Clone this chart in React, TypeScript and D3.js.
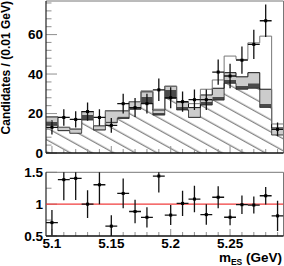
import { useEffect, useRef } from 'react';
import * as d3 from 'd3';

// bin centres in m_ES (GeV), width 0.01
const binCenters = [5.10, 5.11, 5.12, 5.13, 5.14, 5.15, 5.16, 5.17, 5.18, 5.19,
  5.20, 5.21, 5.22, 5.23, 5.24, 5.25, 5.26, 5.27, 5.28, 5.29];

// stacked model components (candidates / bin)
const continuum = [14, 11.3, 10, 16.7, 11.6, 15.3, 17.5, 22.1, 25.2, 19.2,
  27.7, 21.8, 18, 24.3, 26.8, 35.3, 32.3, 32.8, 23.1, 9.1];
const bbDark = [1.8, 0.3, 0.3, 2.5, 0.4, 0.7, 1, 1.3, 3.3, 1.2,
  4.2, 1.6, 0.5, 1.7, 1.7, 1.7, 1.6, 2.5, 1.7, 0.3];
const bbLight = [2.5, 1.4, 1.8, 1.8, 1.8, 5.4, 2.9, 2.6, 2.5, 1.4,
  1.9, 2.3, 4.5, 3.4, 4.3, 3.7, 4.7, 5.4, 7.5, 3.3];
const signal = [0, 0, 0, 0, 0, 0, 0, 0, 0.5, 0.4,
  0, 0, 2, 2.9, 4.2, 8.4, 8.8, 15.1, 26.9, 2];

// data
const dataCounts = [13, 18, 17, 21, 18, 14, 25, 23, 25, 32,
  28, 26, 27, 27, 41, 39, 47, 55, 67, 12];
const dataErrors = [3.6, 4.2, 4.1, 4.6, 4.2, 3.7, 5, 4.8, 5, 5.7,
  5.3, 5.1, 5.2, 5.2, 6.4, 6.2, 6.9, 7.4, 8.2, 3.5];

const xTickLabels = ['5.1', '5.15', '5.2', '5.25'];
const yTickLabels = ['0', '20', '40', '60'];
const ratioTickLabels = ['0.5', '1', '1.5'];

const FONT = 'Liberation Sans, Arial, Helvetica, sans-serif';

interface Row {
  c: number
  continuum: number
  dark: number
  light: number
  signal: number
}

const App = (): JSX.Element => {
  const svgRef = useRef<SVGSVGElement>(null);

  useEffect(() => {
    const svg = d3.select(svgRef.current);
    svg.selectAll('*').remove();

    const half = 0.005;
    const x = d3.scaleLinear().domain([5.095, 5.295]).range([46, 283.5]);
    const y = d3.scaleLinear().domain([0, 77]).range([153, 1]);
    const yr = d3.scaleLinear().domain([0.5, 1.5]).range([236, 172.3]);

    const defs = svg.append('defs');
    const pat = defs.append('pattern')
      .attr('id', 'hatch')
      .attr('patternUnits', 'userSpaceOnUse')
      .attr('width', 10)
      .attr('height', 10.5)
      .attr('patternTransform', 'rotate(29)');
    pat.append('line')
      .attr('x1', 0).attr('x2', 10)
      .attr('y1', 5).attr('y2', 5)
      .attr('stroke', '#333')
      .attr('stroke-width', 0.8);

    defs.append('clipPath').attr('id', 'clipTop')
      .append('rect').attr('x', 46).attr('y', 1).attr('width', 237.5).attr('height', 152);
    defs.append('clipPath').attr('id', 'clipRat')
      .append('rect').attr('x', 46).attr('y', 172.3).attr('width', 237.5).attr('height', 63.7);

    const rows: Row[] = binCenters.map((c, i) => ({
      c,
      continuum: continuum[i],
      dark: bbDark[i],
      light: bbLight[i],
      signal: signal[i],
    }));
    const keys = ['continuum', 'dark', 'light', 'signal'];
    const stacked = d3.stack<Row>().keys(keys)(rows);

    type P = { x: number, y0: number, y1: number };
    const stepPts = (s: d3.Series<Row, string>): P[] => s.flatMap(d => [
      { x: d.data.c - half, y0: d[0], y1: d[1] },
      { x: d.data.c + half, y0: d[0], y1: d[1] },
    ]);

    const area = d3.area<P>().x(p => x(p.x)).y0(p => y(p.y0)).y1(p => y(p.y1));
    const topLine = d3.line<P>().x(p => x(p.x)).y(p => y(p.y1));

    const top = svg.append('g').attr('clip-path', 'url(#clipTop)');
    const fills = ['#fff', '#4a4a4a', '#cccccc', '#fff'];
    stacked.forEach((s, k) => {
      top.append('path').attr('d', area(stepPts(s))).attr('fill', fills[k]);
      if (k === 0) {
        top.append('path').attr('d', area(stepPts(s))).attr('fill', 'url(#hatch)');
      }
    });
    // outlines
    const outline = [
      { k: 0, color: '#222', w: 0.8 },
      { k: 2, color: '#111', w: 1 },
      { k: 3, color: '#777', w: 1 },
    ];
    outline.forEach(o => {
      top.append('path')
        .attr('d', topLine(stepPts(stacked[o.k])))
        .attr('fill', 'none')
        .attr('stroke', o.color)
        .attr('stroke-width', o.w);
    });

    // data points
    const drawPoints = (g: d3.Selection<SVGGElement, unknown, null, undefined>,
      vals: number[], errs: number[], ys: d3.ScaleLinear<number, number>) => {
      vals.forEach((v, i) => {
        const c = binCenters[i];
        g.append('line')
          .attr('x1', x(c)).attr('x2', x(c))
          .attr('y1', ys(v - errs[i])).attr('y2', ys(v + errs[i]))
          .attr('stroke', '#111').attr('stroke-width', 1.3);
        g.append('line')
          .attr('x1', x(c - half)).attr('x2', x(c + half))
          .attr('y1', ys(v)).attr('y2', ys(v))
          .attr('stroke', '#111').attr('stroke-width', 1.3);
        g.append('rect')
          .attr('x', x(c) - 1.5).attr('y', ys(v) - 1.5)
          .attr('width', 3).attr('height', 3)
          .attr('fill', '#000');
      });
    };
    drawPoints(top, dataCounts, dataErrors, y);

    const ticks = svg.append('g').attr('stroke', '#999').attr('stroke-width', 1.1);
    // top panel y ticks
    d3.range(0, 77, 4).forEach(v => {
      const major = v % 20 === 0;
      ticks.append('line')
        .attr('x1', 46).attr('x2', 46 + (major ? 11 : 5.5))
        .attr('y1', y(v)).attr('y2', y(v));
    });
    // x ticks on both panels
    binCenters.forEach((c, i) => {
      const len = i % 5 === 0 ? 7 : 4;
      ticks.append('line').attr('x1', x(c)).attr('x2', x(c))
        .attr('y1', 153).attr('y2', 153 - len);
      ticks.append('line').attr('x1', x(c)).attr('x2', x(c))
        .attr('y1', 236).attr('y2', 236 - len);
    });
    // ratio y ticks
    [0.5, 0.75, 1, 1.25, 1.5].forEach((v, i) => {
      ticks.append('line')
        .attr('x1', 46).attr('x2', 46 + (i % 2 === 0 ? 11 : 5.5))
        .attr('y1', yr(v)).attr('y2', yr(v));
    });

    // frames
    const frame = (y0: number, y1: number) => {
      svg.append('line').attr('x1', 46).attr('x2', 283.5).attr('y1', y0).attr('y2', y0)
        .attr('stroke', '#777').attr('stroke-width', 1);
      svg.append('line').attr('x1', 283.5).attr('x2', 283.5).attr('y1', y0).attr('y2', y1)
        .attr('stroke', '#777').attr('stroke-width', 1);
      svg.append('line').attr('x1', 46).attr('x2', 46).attr('y1', y0).attr('y2', y1)
        .attr('stroke', '#222').attr('stroke-width', 1.2);
      svg.append('line').attr('x1', 46).attr('x2', 283.5).attr('y1', y1).attr('y2', y1)
        .attr('stroke', '#111').attr('stroke-width', 1.5);
    };
    frame(1, 153);
    frame(172.3, 236);

    // ratio panel
    const rat = svg.append('g').attr('clip-path', 'url(#clipRat)');
    rat.append('line')
      .attr('x1', 46).attr('x2', 283.5)
      .attr('y1', yr(1)).attr('y2', yr(1))
      .attr('stroke', '#f03c3c').attr('stroke-width', 1.1);
    const totals = rows.map(r => r.continuum + r.dark + r.light + r.signal);
    const ratios = dataCounts.map((v, i) => v / totals[i]);
    const ratioErrs = dataErrors.map((e, i) => e / totals[i]);
    drawPoints(rat, ratios, ratioErrs, yr);

    // labels
    const lab = svg.append('g')
      .attr('font-family', FONT).attr('font-weight', 'bold').attr('fill', '#000');
    yTickLabels.forEach(t => {
      lab.append('text').attr('x', 43).attr('y', y(+t) + 4.8)
        .attr('text-anchor', 'end').attr('font-size', 13.5).text(t);
    });
    ratioTickLabels.forEach(t => {
      lab.append('text').attr('x', 43).attr('y', yr(+t) + 4.8)
        .attr('text-anchor', 'end').attr('font-size', 13.5).text(t);
    });
    xTickLabels.forEach(t => {
      lab.append('text').attr('x', x(+t)).attr('y', 247.5)
        .attr('text-anchor', 'middle').attr('font-size', 13.5).text(t);
    });
    const xt = lab.append('text').attr('x', 282).attr('y', 262)
      .attr('text-anchor', 'end').attr('font-size', 13.5);
    xt.append('tspan').text('m');
    xt.append('tspan').attr('font-size', 8.5).attr('dy', 2.5).text('ES');
    xt.append('tspan').attr('dy', -2.5).text(' (GeV)');

    lab.append('text')
      .attr('transform', 'translate(9.5,1) rotate(-90)')
      .attr('text-anchor', 'end').attr('font-size', 12)
      .text('Candidates / (0.01 GeV)');

    return () => {
      d3.select(svgRef.current).selectAll('*').remove();
    };
  }, []);

  return (
    <svg ref={svgRef} width={284} height={266}
      style={{ position: 'absolute', left: 0, top: 0, background: '#fff' }} />
  );
};

export default App;
